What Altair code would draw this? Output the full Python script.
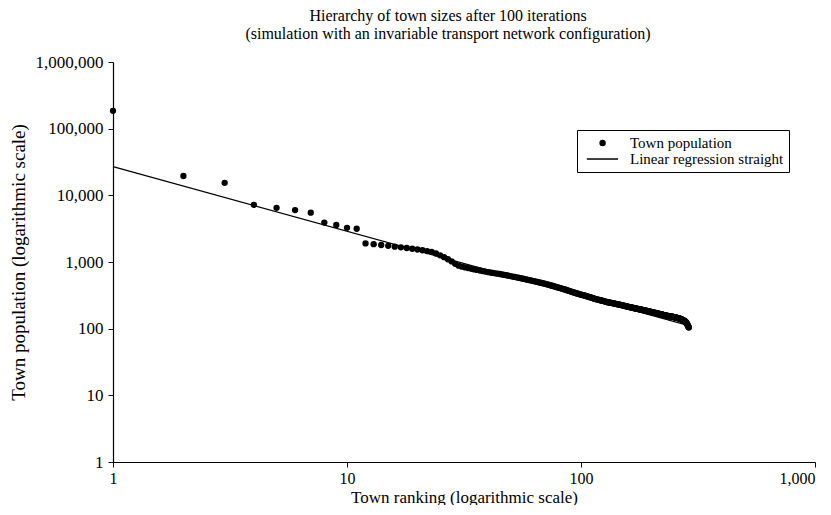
import altair as alt
import pandas as pd

# Town populations, by rank (rank 1 = largest town)
population = [
    185000, 19500, 15400, 7200, 6500, 6000, 5500, 3900, 3600, 3250,
    3150, 1900, 1850, 1800, 1750, 1700, 1660, 1620, 1580, 1540,
    1500, 1460, 1420, 1340, 1260, 1180, 1100, 1020, 940, 880,
    850, 830, 810, 790, 775, 760, 745, 730, 718, 706,
    695, 685, 676, 668, 660, 650, 641, 632, 623, 614,
    605, 597, 589, 581, 573, 565, 557, 550, 543, 536,
    529, 522, 515, 508, 502, 496, 490, 484, 478, 472,
    466, 460, 454, 448, 442, 436, 430, 424, 418, 413,
    408, 403, 398, 393, 388, 383, 378, 373, 368, 363,
    358, 354, 350, 346, 342, 338, 334, 330, 327, 324,
    321, 318, 315, 312, 309, 306, 303, 300, 297, 294,
    291, 288, 285, 282, 279, 277, 275, 273, 271, 269,
    267, 265, 263, 261, 259, 257, 255, 253, 251, 249,
    248, 247, 246, 244, 243, 242, 241, 239, 238, 237,
    236, 234, 233, 232, 231, 229, 228, 227, 226, 224,
    223, 222, 221, 219, 218, 217, 216, 214, 213, 212,
    211, 210, 209, 208, 207, 206, 205, 204, 203, 202,
    201, 200, 199, 198, 198, 197, 196, 195, 194, 194,
    193, 192, 191, 190, 190, 189, 188, 187, 186, 186,
    185, 184, 183, 182, 182, 181, 180, 179, 178, 178,
    177, 176, 175, 175, 174, 173, 173, 172, 172, 171,
    170, 169, 169, 168, 167, 167, 166, 165, 165, 164,
    163, 163, 162, 161, 161, 160, 159, 159, 158, 158,
    157, 157, 156, 156, 155, 155, 154, 154, 153, 153,
    153, 152, 152, 152, 151, 151, 150, 150, 149, 149,
    148, 148, 147, 147, 146, 146, 145, 145, 144, 144,
    143, 143, 142, 141, 141, 140, 139, 139, 138, 137,
    136, 135, 134, 133, 132, 131, 130, 129, 128, 126,
    124, 122, 120, 118, 115, 112, 109, 106, 104,
]
rank = list(range(1, len(population) + 1))

# Regression straight line endpoints (rank, population)
reg_rank = [1, 289]
reg_pop = [27000, 111]

series_names = ["Town population", "Linear regression straight"]
x_ticks = [1, 10, 100, 1000]
y_ticks = [1, 10, 100, 1000, 10000, 100000, 1000000]

pts = pd.DataFrame({"rank": rank, "pop": population, "series": series_names[0]})
reg = pd.DataFrame({"rank": reg_rank, "pop": reg_pop, "series": series_names[1]})

FONT = "Liberation Serif"

x_enc = alt.X(
    "rank:Q",
    scale=alt.Scale(type="log", domain=[1, 1000], nice=False),
    axis=alt.Axis(values=x_ticks, format=",", title="Town ranking (logarithmic scale)",
                  grid=False, tickSize=5, labelPadding=3, titlePadding=3,
                  labelFlush=False,
                  labelAlign=alt.ExprRef(expr="datum.value == 1000 ? 'right' : 'center'"),
                  labelFontSize=16, titleFontSize=17),
)
y_enc = alt.Y(
    "pop:Q",
    scale=alt.Scale(type="log", domain=[1, 1000000], nice=False),
    axis=alt.Axis(values=y_ticks, format=",", title="Town population (logarithmic scale)",
                  grid=False, tickSize=5, labelPadding=5, titlePadding=7,
                  labelFlush=False, labelFontSize=17, titleFontSize=19),
)

# legend symbols: custom paths (unit = half of sqrt(symbolSize))
CIRCLE_PATH = "M1.45,0A0.35,0.35 0 1,0 2.15,0A0.35,0.35 0 1,0 1.45,0Z"
LINE_PATH = "M-0.45,0H4"

legend = alt.Legend(
    title=None,
    orient="none",
    legendX=464,
    legendY=68,
    strokeColor="black",
    padding=5,
    symbolSize=196,
    symbolType=alt.ExprRef(
        expr=f"datum.value == 'Town population' ? '{CIRCLE_PATH}' : '{LINE_PATH}'"
    ),
    symbolFillColor="black",
    symbolStrokeColor="black",
    symbolStrokeWidth=1.5,
    symbolOpacity=1,
    rowPadding=0,
    labelOffset=32,
    labelFontSize=15,
)

color = alt.Color(
    "series:N",
    scale=alt.Scale(domain=series_names, range=["black", "black"]),
    legend=legend,
)

points = alt.Chart(pts).mark_circle(size=40, opacity=1).encode(x=x_enc, y=y_enc, color=color)
line = alt.Chart(reg).mark_line(strokeWidth=1.2).encode(x="rank:Q", y="pop:Q", color=color)

chart = (
    alt.layer(line, points)
    .properties(
        width=702,
        height=400,
        autosize=alt.AutoSizeParams(type="none"),
        padding={"left": 105, "top": 54, "right": 6, "bottom": 43},
        title=alt.Title(
            ["Hierarchy of town sizes after 100 iterations",
             "(simulation with an invariable transport network configuration)"],
            fontSize=16, font=FONT, fontWeight="normal", color="black",
            offset=11, dx=-16, lineHeight=18,
        ),
    )
    .configure_view(stroke=None)
    .configure_axis(
        labelFont=FONT, titleFont=FONT,
        titleFontWeight="normal", labelColor="black", titleColor="black",
        domainColor="black", tickColor="black", domainWidth=1.2,
    )
    .configure_legend(labelFont=FONT, labelColor="black")
)

chart.save("out.html", embed_options={"renderer": "svg", "actions": False})
